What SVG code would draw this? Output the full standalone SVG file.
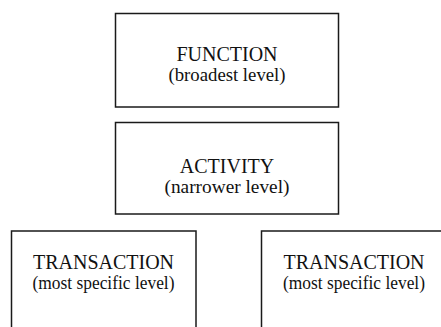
<svg xmlns="http://www.w3.org/2000/svg" width="441" height="327" viewBox="0 0 441 327">
<defs>
<style>
.box{fill:#fff;stroke:#1a1a1a;stroke-width:1.5}
text{fill:#111;text-anchor:middle;font-family:'Liberation Serif',serif}
.h{font-size:20px}
.s{font-size:18.5px}
</style>
</defs>
<rect width="441" height="327" fill="#fff"/>
<g id="function">
<rect class="box" x="115.5" y="13.5" width="223" height="93.5"/>
<text class="h" x="227" y="61">FUNCTION</text>
<text class="s" x="227" y="81" textLength="117" lengthAdjust="spacingAndGlyphs">(broadest level)</text>
</g>
<g id="activity">
<rect class="box" x="115.5" y="122.5" width="223" height="91.5"/>
<text class="h" x="227" y="173">ACTIVITY</text>
<text class="s" x="227" y="193" textLength="125" lengthAdjust="spacingAndGlyphs">(narrower level)</text>
</g>
<g id="transaction1">
<rect class="box" x="11.5" y="231" width="184.5" height="110"/>
<text class="h" x="103.5" y="269">TRANSACTION</text>
<text class="s" x="103.5" y="289" textLength="142" lengthAdjust="spacingAndGlyphs">(most specific level)</text>
</g>
<g id="transaction2">
<rect class="box" x="261.5" y="231" width="186" height="110"/>
<text class="h" x="354" y="269">TRANSACTION</text>
<text class="s" x="354" y="289" textLength="142" lengthAdjust="spacingAndGlyphs">(most specific level)</text>
</g>
</svg>
